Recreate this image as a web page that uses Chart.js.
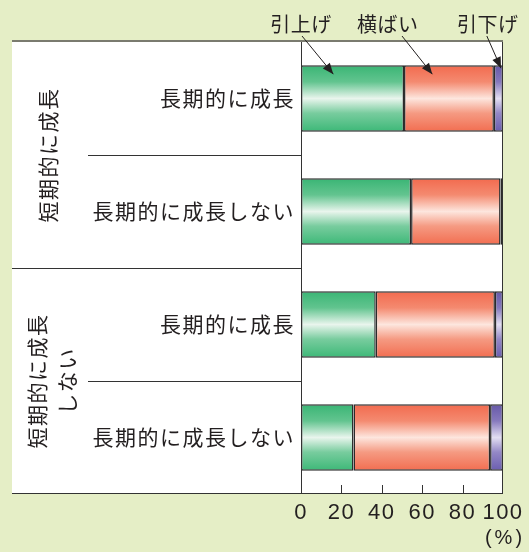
<!DOCTYPE html>
<html>
<head>
<meta charset="utf-8">
<script src="https://cdn.jsdelivr.net/npm/chart.js@4/dist/chart.umd.min.js"></script>
<style>
  html, body { margin: 0; padding: 0; background: #e5eec6; }
  canvas { display: block; }
</style>
</head>
<body>
<canvas id="chart" width="529" height="552"></canvas>
<script>
// data (percent of companies)
const categories = ['長期的に成長', '長期的に成長しない', '長期的に成長', '長期的に成長しない'];
const groups = [['短期的に成長'], ['短期的に成長', 'しない']];
const seriesNames = ['引上げ', '横ばい', '引下げ'];
const raised = [51, 54.5, 37, 26];
const flat = [44.5, 44.3, 59, 67.6];
const lowered = [4.5, 1.2, 4, 6.4];
const xTicks = [0, 20, 40, 60, 80, 100];

const JP = '"Noto Sans CJK JP", sans-serif';
const INK = '#231f20';
const BAR_PCT = 0.59;

function barFill(stops) {
  return (ctx) => {
    const chart = ctx.chart;
    const y = chart.scales.y;
    if (!chart.chartArea || !y) return stops[0][1];
    const c = y.getPixelForValue(ctx.dataIndex);
    const h = Math.abs(y.getPixelForValue(1) - y.getPixelForValue(0)) * BAR_PCT;
    const g = chart.ctx.createLinearGradient(0, c - h / 2, 0, c + h / 2);
    stops.forEach(([o, col]) => g.addColorStop(o, col));
    return g;
  };
}

const greenFill = barFill([[0, '#39b574'], [0.25, '#62c48f'], [0.5, '#e9f5ed'], [0.72, '#78cc9e'], [1, '#3cb877']]);
const redFill = barFill([[0, '#f26a4e'], [0.25, '#f48a70'], [0.5, '#fde6de'], [0.72, '#f59a82'], [1, '#f26d50']]);
const blueFill = barFill([[0, '#6658a8'], [0.25, '#8679bd'], [0.5, '#e2def2'], [0.72, '#9488c6'], [1, '#6a5db0']]);

// frame, separators, group labels and callouts
const decor = {
  id: 'decor',
  beforeDraw(chart) {
    const { ctx, chartArea: a } = chart;
    ctx.save();
    ctx.fillStyle = '#e5eec6';
    ctx.fillRect(0, 0, chart.width, chart.height);
    ctx.fillStyle = '#ffffff';
    ctx.fillRect(12, a.top, a.right - 12, a.bottom - a.top);
    ctx.restore();
    // axis labels in the reference are a little spread out
    ctx.letterSpacing = '1.5px';
  },
  beforeDatasetsDraw(chart) {
    chart.ctx.letterSpacing = '0px';
  },
  afterDraw(chart) {
    const { ctx, chartArea: a } = chart;
    const x = chart.scales.x;
    const y = chart.scales.y;
    ctx.save();
    ctx.letterSpacing = '0px';

    // separators between rows
    ctx.strokeStyle = '#333';
    ctx.lineWidth = 1;
    [0.5, 1.5, 2.5].forEach((v, i) => {
      const py = Math.round(y.getPixelForValue(v)) + 0.5;
      ctx.beginPath();
      ctx.moveTo(i === 1 ? 12 : 88, py);
      ctx.lineTo(a.left, py);
      ctx.stroke();
    });

    // frame
    ctx.beginPath();
    ctx.moveTo(a.left + 0.5, a.top);
    ctx.lineTo(a.left + 0.5, a.bottom);
    ctx.moveTo(a.right - 0.5, a.top);
    ctx.lineTo(a.right - 0.5, a.bottom);
    ctx.moveTo(12, a.bottom - 0.5);
    ctx.lineTo(a.right, a.bottom - 0.5);
    ctx.stroke();
    ctx.strokeStyle = '#7a7b6f';
    ctx.lineWidth = 2;
    ctx.beginPath();
    ctx.moveTo(12, a.top - 1);
    ctx.lineTo(a.right, a.top - 1);
    ctx.stroke();

    // inward ticks on x axis
    ctx.strokeStyle = '#333';
    ctx.lineWidth = 1;
    xTicks.slice(1, -1).forEach(v => {
      const px = Math.round(x.getPixelForValue(v)) + 0.5;
      ctx.beginPath();
      ctx.moveTo(px, a.bottom - 9);
      ctx.lineTo(px, a.bottom);
      ctx.stroke();
    });

    // unit
    ctx.fillStyle = INK;
    ctx.textAlign = 'center';
    ctx.textBaseline = 'middle';
    ctx.font = '20px "Liberation Sans", Arial, sans-serif';
    ctx.letterSpacing = '3px';
    ctx.fillText('(%)', a.right + 2, 538);

    // vertical group labels
    ctx.font = '21px ' + JP;
    ctx.letterSpacing = '1.5px';
    groups.forEach((lines, g) => {
      const cy = y.getPixelForValue(g * 2 + 0.5);
      const cx = lines.length === 1 ? 48 : 52;
      ctx.save();
      ctx.translate(cx, cy);
      ctx.rotate(-Math.PI / 2);
      lines.forEach((t, i) => {
        ctx.fillText(t, 0, (i - (lines.length - 1) / 2) * 30);
      });
      ctx.restore();
    });

    // legend callouts with arrows
    const callouts = [
      { from: 0.5, to: 16, label: 0, tipY: 9 },
      { from: 50, to: 65, label: 43, tipY: 9 },
      { from: 92, to: 99, label: 92.5, tipY: 3 }
    ];
    const barTop = y.getPixelForValue(0) - Math.abs(y.getPixelForValue(1) - y.getPixelForValue(0)) * BAR_PCT / 2;
    ctx.font = '20px ' + JP;
    ctx.letterSpacing = '0.5px';
    callouts.forEach((c, i) => {
      ctx.fillStyle = INK;
      ctx.fillText(seriesNames[i], x.getPixelForValue(c.label), 24);
      const x0 = x.getPixelForValue(c.from), y0 = 36;
      const x1 = x.getPixelForValue(c.to), y1 = barTop + c.tipY;
      ctx.strokeStyle = INK;
      ctx.lineWidth = 1;
      ctx.beginPath();
      ctx.moveTo(x0, y0);
      ctx.lineTo(x1, y1);
      ctx.stroke();
      const ang = Math.atan2(y1 - y0, x1 - x0);
      const len = 11, half = 4.5;
      ctx.beginPath();
      ctx.moveTo(x1, y1);
      ctx.lineTo(x1 - len * Math.cos(ang) + half * Math.sin(ang), y1 - len * Math.sin(ang) - half * Math.cos(ang));
      ctx.lineTo(x1 - len * Math.cos(ang) - half * Math.sin(ang), y1 - len * Math.sin(ang) + half * Math.cos(ang));
      ctx.closePath();
      ctx.fill();
    });
    ctx.restore();
  }
};

new Chart(document.getElementById('chart'), {
  type: 'bar',
  data: {
    labels: categories,
    datasets: [
      { label: seriesNames[0], data: raised, backgroundColor: greenFill },
      { label: seriesNames[1], data: flat, backgroundColor: redFill },
      { label: seriesNames[2], data: lowered, backgroundColor: blueFill }
    ]
  },
  options: {
    indexAxis: 'y',
    responsive: false,
    animation: false,
    devicePixelRatio: 1,
    layout: { padding: { top: 42, right: 26, left: 0, bottom: 0 } },
    datasets: {
      bar: {
        barPercentage: BAR_PCT,
        categoryPercentage: 1,
        borderColor: '#2b2b2b',
        borderWidth: 1.5,
        borderSkipped: false
      }
    },
    plugins: {
      legend: { display: false },
      tooltip: { enabled: false }
    },
    scales: {
      x: {
        stacked: true,
        min: 0,
        max: 100,
        afterBuildTicks: (s) => { s.ticks = xTicks.map(v => ({ value: v })); },
        afterFit: (s) => { s.height = 58; },
        grid: { display: false, drawTicks: false },
        border: { display: false },
        ticks: {
          color: INK,
          padding: 6,
          maxRotation: 0,
          font: { family: '"Liberation Sans", Arial, sans-serif', size: 22 }
        }
      },
      y: {
        stacked: true,
        afterFit: (s) => { s.width = 301; },
        grid: { display: false, drawTicks: false },
        border: { display: false },
        ticks: {
          color: INK,
          padding: 6,
          font: { family: JP, size: 21 }
        }
      }
    }
  },
  plugins: [decor]
});
</script>
</body>
</html>
